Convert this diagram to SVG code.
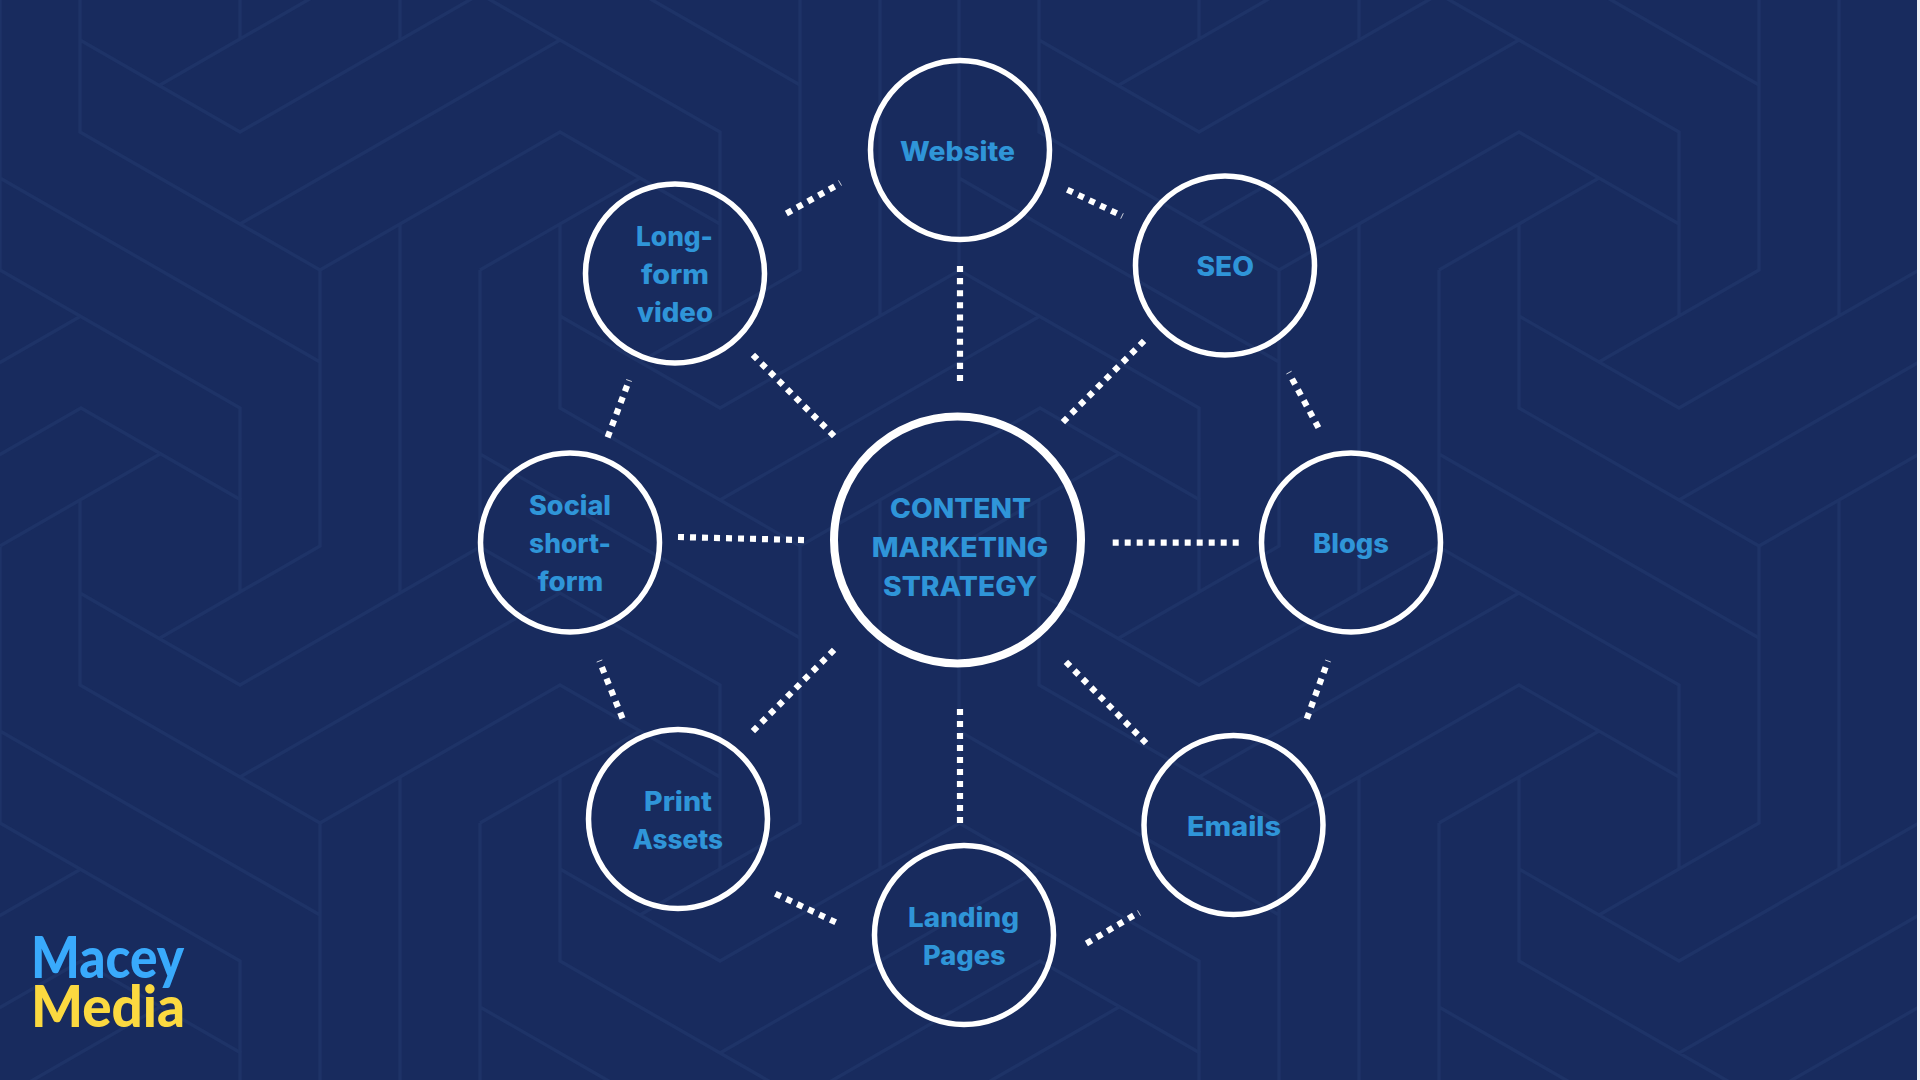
<svg xmlns="http://www.w3.org/2000/svg" xmlns:xlink="http://www.w3.org/1999/xlink" width="1920" height="1080" viewBox="0 0 1920 1080">
<style>
.bgl{fill:none;stroke:#1e3367;stroke-width:3.4;stroke-linejoin:miter}
.ring{fill:none;stroke:#fff;stroke-width:5.5}
.hub{fill:none;stroke:#fff;stroke-width:8}
.lbl{font-family:Inter,"Liberation Sans",sans-serif;font-weight:800;font-size:26.5px;fill:#2f95d8}
.logo{font-family:Lato,"Liberation Sans",sans-serif;font-weight:900;font-size:57px}
.dots{stroke:#fff;stroke-width:6.2;fill:none}
.tick{stroke:#fff;stroke-width:.8;fill:none}
</style>
<defs>
<path id="tile" class="bgl" d="M80,-52V132L320,270V546L160,638M80,40L240,132L480,-6L720,132V316L640,362M800,-6V270L640,362M560,224V408L800,546L1040,408L1200,500M0,-6V270L240,408V592M240,224L560,40M320,270L560,132L720,224M400,224V592M0,178L320,362M480,270L640,178M480,270V546M560,316L720,408L960,270M480,454L800,638M720,500L1040,316M160,454L0,546M880,-52V316"/>
</defs>
<rect width="1920" height="1080" fill="#182b5e"/>
<g id="background">
<use href="#tile" x="-959" y="-553"/><use href="#tile" x="0" y="-553"/><use href="#tile" x="959" y="-553"/>
<use href="#tile" x="-959" y="0"/><use href="#tile" x="0" y="0"/><use href="#tile" x="959" y="0"/>
<use href="#tile" x="-959" y="553"/><use href="#tile" x="0" y="553"/><use href="#tile" x="959" y="553"/>
</g>
<rect x="1917" y="0" width="3" height="1080" fill="#eef0f4"/>
<g id="connectors">
<line class="dots" x1="960" y1="266" x2="960" y2="381" pathLength="114" stroke-dasharray="6 6"/>
<line class="dots" x1="960" y1="709" x2="960" y2="823" pathLength="114" stroke-dasharray="6 6"/>
<line class="dots" x1="678" y1="537" x2="804" y2="540.1" pathLength="126" stroke-dasharray="6 6"/>
<line class="dots" x1="1112.7" y1="542.7" x2="1238.7" y2="542.7" pathLength="126" stroke-dasharray="6 6"/>
<line class="dots" x1="752.9" y1="354.9" x2="834.1" y2="436.1" pathLength="114" stroke-dasharray="6 6"/>
<line class="dots" x1="1062.9" y1="422.1" x2="1144.1" y2="340.9" pathLength="114" stroke-dasharray="6 6"/>
<line class="dots" x1="834.1" y1="649.9" x2="752.9" y2="731.1" pathLength="114" stroke-dasharray="6 6"/>
<line class="dots" x1="1065.9" y1="661.9" x2="1146.1" y2="743.1" pathLength="114" stroke-dasharray="6 6"/>
<line class="dots" x1="786.4" y1="213.5" x2="834.6" y2="186.5" pathLength="54" stroke-dasharray="6 6"/>
<line class="tick" x1="838.5" y1="180.4" x2="841.5" y2="185.6"/>
<line class="dots" x1="1067.3" y1="189.7" x2="1116.7" y2="213.3" pathLength="54" stroke-dasharray="6 6"/>
<line class="tick" x1="1120.7" y1="218.7" x2="1123.3" y2="213.3"/>
<line class="dots" x1="1292.1" y1="378.9" x2="1318.4" y2="427.6" pathLength="54" stroke-dasharray="6 6"/>
<line class="tick" x1="1286.4" y1="374" x2="1291.6" y2="371.2"/>
<line class="dots" x1="1325.6" y1="667.2" x2="1306.8" y2="718.8" pathLength="54" stroke-dasharray="6 6"/>
<line class="tick" x1="1325.2" y1="660" x2="1330.8" y2="662"/>
<line class="dots" x1="1086.4" y1="943.5" x2="1133.6" y2="915.5" pathLength="54" stroke-dasharray="6 6"/>
<line class="tick" x1="1137.5" y1="910.4" x2="1140.5" y2="915.6"/>
<line class="dots" x1="835.7" y1="922.3" x2="775.3" y2="893.7" pathLength="66" stroke-dasharray="6 6"/>
<line class="dots" x1="622.5" y1="718.4" x2="601.9" y2="667.2" pathLength="54" stroke-dasharray="6 6"/>
<line class="tick" x1="596.7" y1="662.1" x2="602.3" y2="659.9"/>
<line class="dots" x1="607.6" y1="437.4" x2="627.1" y2="385.6" pathLength="54" stroke-dasharray="6 6"/>
<line class="tick" x1="626.2" y1="379.5" x2="631.8" y2="381.5"/>
</g>
<g id="node-center">
<circle class="hub" cx="957.5" cy="540" r="123.5"/>
<text class="lbl" x="890" y="517.7" textLength="141" lengthAdjust="spacingAndGlyphs">CONTENT</text>
<text class="lbl" x="871.7" y="556.7" textLength="176.6" lengthAdjust="spacingAndGlyphs">MARKETING</text>
<text class="lbl" x="883" y="596" textLength="154" lengthAdjust="spacingAndGlyphs">STRATEGY</text>
</g>
<g id="node-website">
<circle class="ring" cx="960" cy="150" r="89.5"/>
<text class="lbl" x="900" y="161" textLength="115" lengthAdjust="spacingAndGlyphs">Website</text>
</g>
<g id="node-seo">
<circle class="ring" cx="1225" cy="265.5" r="89.5"/>
<text class="lbl" x="1196.5" y="275.5" textLength="57.5" lengthAdjust="spacingAndGlyphs">SEO</text>
</g>
<g id="node-blogs">
<circle class="ring" cx="1351" cy="542.5" r="89.5"/>
<text class="lbl" x="1313" y="553.3" textLength="76" lengthAdjust="spacingAndGlyphs">Blogs</text>
</g>
<g id="node-emails">
<circle class="ring" cx="1233.5" cy="825" r="89.5"/>
<text class="lbl" x="1187" y="836" textLength="94" lengthAdjust="spacingAndGlyphs">Emails</text>
</g>
<g id="node-landing">
<circle class="ring" cx="964" cy="935" r="89.5"/>
<text class="lbl" x="908" y="926.7" textLength="111" lengthAdjust="spacingAndGlyphs">Landing</text>
<text class="lbl" x="923" y="965" textLength="82.7" lengthAdjust="spacingAndGlyphs">Pages</text>
</g>
<g id="node-print">
<circle class="ring" cx="678" cy="819" r="89.5"/>
<text class="lbl" x="644" y="811" textLength="68" lengthAdjust="spacingAndGlyphs">Print</text>
<text class="lbl" x="632.7" y="849" textLength="90.3" lengthAdjust="spacingAndGlyphs">Assets</text>
</g>
<g id="node-social">
<circle class="ring" cx="570" cy="542.5" r="89.5"/>
<text class="lbl" x="529" y="515" textLength="82" lengthAdjust="spacingAndGlyphs">Social</text>
<text class="lbl" x="529" y="553.3" textLength="82" lengthAdjust="spacingAndGlyphs">short-</text>
<text class="lbl" x="537.7" y="591" textLength="65.6" lengthAdjust="spacingAndGlyphs">form</text>
</g>
<g id="node-longform">
<circle class="ring" cx="675" cy="273.5" r="89.5"/>
<text class="lbl" x="636" y="245.5" textLength="77" lengthAdjust="spacingAndGlyphs">Long-</text>
<text class="lbl" x="641" y="283.5" textLength="68" lengthAdjust="spacingAndGlyphs">form</text>
<text class="lbl" x="637" y="321.5" textLength="76" lengthAdjust="spacingAndGlyphs">video</text>
</g>
<g id="logo">
<text class="logo" x="31" y="977.7" fill="#39aafc" textLength="153" lengthAdjust="spacingAndGlyphs">Macey</text>
<text class="logo" x="31" y="1026.7" fill="#fbd940" textLength="154" lengthAdjust="spacingAndGlyphs">Media</text>
</g>
</svg>
